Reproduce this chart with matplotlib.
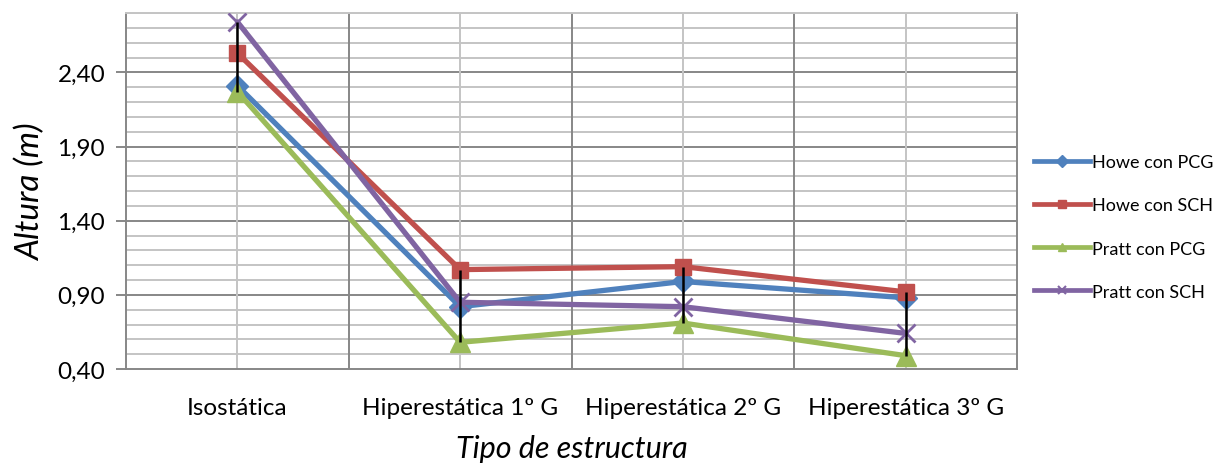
import matplotlib
matplotlib.use('Agg')
import matplotlib.pyplot as plt
import numpy as np

plt.rcParams['font.family'] = ['Lato', 'DejaVu Sans']

# datos
categorias = ['Isostática', 'Hiperestática 1º G', 'Hiperestática 2º G', 'Hiperestática 3º G']
howe_pcg = [2.31, 0.82, 0.99, 0.88]
howe_sch = [2.53, 1.07, 1.09, 0.92]
pratt_pcg = [2.27, 0.58, 0.71, 0.49]
pratt_sch = [2.74, 0.85, 0.82, 0.64]
yticks = [0.40, 0.90, 1.40, 1.90, 2.40]

series = [
    ('Howe con PCG', howe_pcg, '#4F81BD', 'D', 11),
    ('Howe con SCH', howe_sch, '#C0504D', 's', 12),
    ('Pratt con PCG', pratt_pcg, '#9BBB59', '^', 14),
    ('Pratt con SCH', pratt_sch, '#8064A2', 'x', 13),
]

fig = plt.figure(figsize=(12.19, 4.64), dpi=100)
ax = fig.add_axes([126/1219, 1-370/464, (1017-126)/1219, (370-14)/464])

x = np.arange(len(categorias))
major_c = '#878787'
minor_c = '#c4c4c4'

# rejilla
for v in np.arange(0.4, 2.81, 0.1):
    if abs(((v - 0.4) / 0.5) - round((v - 0.4) / 0.5)) < 1e-6:
        continue
    ax.axhline(v, color=minor_c, lw=1.4, zorder=0)
for v in yticks[1:]:
    ax.axhline(v, color=major_c, lw=1.4, zorder=0)
for xi in x:
    ax.axvline(xi, color=minor_c, lw=1.4, zorder=0)
for xi in np.arange(0.5, len(categorias) - 0.5, 1):
    ax.axvline(xi, color=major_c, lw=1.4, zorder=0)

handles = []
for nombre, vals, col, mk, ms in series:
    mew = 2.0 if mk == 'x' else 1.0
    h, = ax.plot(x, vals, color=col, lw=3.8, marker=mk, markersize=ms,
                 markeredgewidth=mew, markeredgecolor=col, label=nombre, zorder=3,
                 solid_capstyle='round')
    handles.append(h)

# lineas de maximo-minimo
todos = np.array([howe_pcg, howe_sch, pratt_pcg, pratt_sch])
ax.vlines(x, todos.min(axis=0), todos.max(axis=0), color='black', lw=1.8, zorder=5)

ax.set_xlim(-0.5, len(categorias) - 0.5)
ax.set_ylim(0.4, 2.8)
ax.set_yticks(yticks)
ax.set_yticklabels([f'{v:.2f}'.replace('.', ',') for v in yticks])
ax.set_xticks(x)
ax.set_xticklabels(categorias)
ax.tick_params(axis='y', length=7, width=1.4, color=major_c, labelsize=17.5, pad=8)
ax.tick_params(axis='x', length=0, labelsize=17.5, pad=20)

for s in ['left', 'bottom', 'right']:
    ax.spines[s].set_color(major_c)
    ax.spines[s].set_linewidth(1.4)
ax.spines['top'].set_color(minor_c)
ax.spines['top'].set_linewidth(1.4)

ax.set_ylabel('Altura (m)', fontsize=24, style='italic', labelpad=8)
ax.set_xlabel('Tipo de estructura', fontsize=22, style='italic', labelpad=12)

leg = fig.legend(handles=[
    plt.Line2D([], [], color=c, lw=3.4, marker=m, markersize=6, markeredgewidth=1.5 if m == 'x' else 1, markeredgecolor=c)
    for _, _, c, m, _ in series],
    labels=[s[0] for s in series], loc='center left',
    bbox_to_anchor=(1027/1219, 1-228/464), frameon=False, fontsize=13,
    handlelength=3.1, handletextpad=0.1, labelspacing=1.5, borderaxespad=0)

fig.savefig('out.png', dpi=100)
